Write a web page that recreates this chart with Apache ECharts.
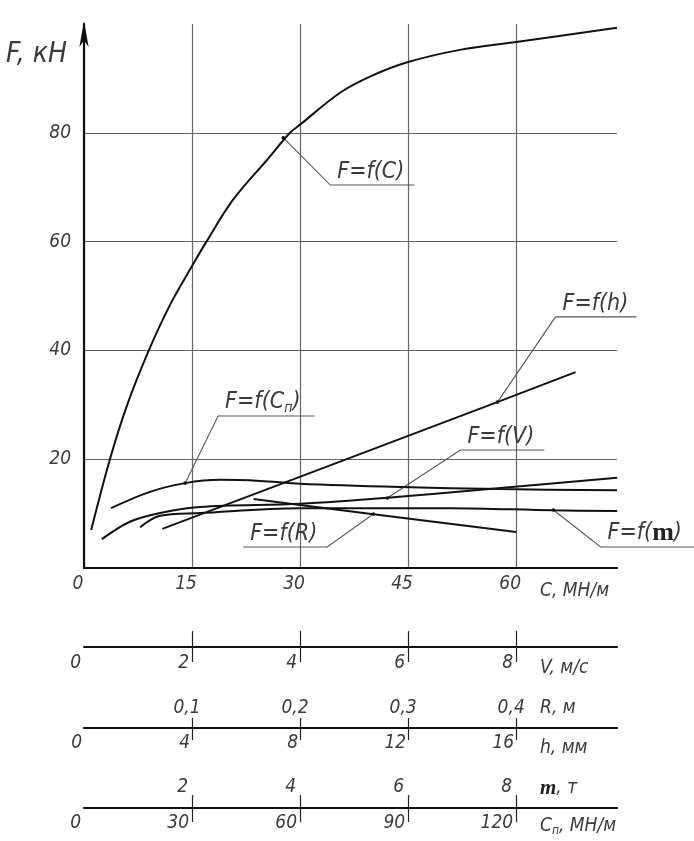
<!DOCTYPE html>
<html><head><meta charset="utf-8">
<script src="https://cdn.jsdelivr.net/npm/echarts/dist/echarts.min.js"></script>
<style>html,body{margin:0;padding:0;background:#fff}#c{width:694px;height:841px}</style>
</head><body><div id="c"></div>
<script>
// ---- tick labels ----
const cTicks = [0, 15, 30, 45, 60];
const fTicks = [20, 40, 60, 80];
const vTicks = [0, 2, 4, 6, 8];
const rTicks = [0.1, 0.2, 0.3, 0.4];
const hTicks = [0, 4, 8, 12, 16];
const mTicks = [2, 4, 6, 8];
const cpTicks = [0, 30, 60, 90, 120];

// ---- axis ranges (same physical length, different units) ----
const cMax = 74, vMax = 74 / 7.5, rMax = 74 / 150, hMax = 74 / 3.75, mMax = 74 / 7.5, cpMax = 148;

// ---- curves: [argument, F kN] ----
const curveC  = [[1.0,7.0],[3.6,20],[6.0,30],[9.0,40],[12.0,48.5],[15.0,55.5],[17.0,60],[20.7,67.7],[25.4,75],[28.6,80],[30,81.5],[35.6,87.4],[40,90.5],[45,93],[52,95.2],[60,96.7],[74,99.3]];
const curveCp = [[7.5,11.0],[18.3,14.0],[28.1,15.6],[37.8,16.2],[48.9,16.0],[60,15.5],[87.8,14.9],[115.6,14.5],[148,14.3]];
const curveV  = [[0.33,5.3],[0.85,8.5],[1.41,10.1],[2.15,11.2],[4.0,11.8],[5.62,12.9],[7.71,14.7],[9.87,16.6]];
const curveM  = [[1.04,7.5],[1.41,9.6],[2.15,10.1],[4.0,11.0],[6.78,11.0],[8.69,10.6],[9.87,10.5]];
const curveR  = [[0.157,12.7],[0.2,11.6],[0.268,9.9],[0.4,6.6]];
const curveH  = [[2.9,7.2],[15.3,30.5],[18.2,36.0]];

// ---- callouts in C / F coordinates: anchor, elbow, underline far end ----
const noteLabels = ['{a|F=f(C)}', '{a|F=f(C}{s|п}{a|)}', '{a|F=f(h)}', '{a|F=f(V)}', '{a|F=f(R)}', '{a|F=f(}{m|m}{a|)}'];
const noteAnchor = [[27.66,79.1],[14.04,15.6],[57.4,30.5],[42.11,12.87],[40.17,9.93],[65.18,10.67]];
const noteElbow  = [[34.19,70.4],[18.62,27.95],[65.46,46.16],[52.26,21.7],[33.77,3.86],[71.72,3.86]];
const noteEnd    = [45.87, 31.97, 76.72, 63.93, 22.10, 84.78];

const FONT = "'DejaVu Sans Condensed','Liberation Sans Narrow','DejaVu Sans',sans-serif";
const TXT = '#3a3a3a';
const lbl = (extra) => Object.assign({fontFamily: FONT, fontStyle: 'italic', fontSize: 19, color: TXT}, extra);
const richName = {
  a: {fontFamily: FONT, fontStyle: 'italic', fontSize: 19, color: TXT},
  s: {fontFamily: FONT, fontStyle: 'italic', fontSize: 12, color: TXT, padding: [10, 0, 0, 0]},
  b: {fontFamily: "'Liberation Serif','DejaVu Serif',serif", fontWeight: 'bold', fontSize: 21, color: '#222'}
};

const chart = echarts.init(document.getElementById('c'), null, {renderer: 'canvas'});

function hiddenX(max, grid) { return {type: 'value', gridIndex: grid, min: 0, max: max, show: false}; }
function scaleAxis(o) {
  return Object.assign({
    type: 'value', min: 0, splitLine: {show: false},
    nameLocation: 'end', nameMoveOverlap: false
  }, o);
}

const option = {
  animation: false,
  backgroundColor: '#fff',
  grid: [
    {left: 84, right: 77, top: 24, bottom: 273, outerBoundsMode: 'none'},
    {left: 84, right: 77, top: 646, height: 1, outerBoundsMode: 'none'},
    {left: 84, right: 77, top: 727, height: 1, outerBoundsMode: 'none'},
    {left: 84, right: 77, top: 807, height: 1, outerBoundsMode: 'none'}
  ],
  xAxis: [
    // 0: main C axis
    {type: 'value', gridIndex: 0, min: 0, max: cMax,
     axisLine: {lineStyle: {color: '#111', width: 2.2}},
     axisTick: {show: false, customValues: cTicks},
     splitLine: {show: true, lineStyle: {color: '#666', width: 1.2}},
     axisLabel: lbl({customValues: cTicks, align: 'center', padding: [0, 12, 0, 0], margin: 7}),
     name: 'С, МН/м', nameLocation: 'end', nameGap: -77, nameMoveOverlap: false,
     nameTextStyle: lbl({align: 'left', verticalAlign: 'top', padding: [14, 0, 0, 0]})},
    hiddenX(vMax, 0), hiddenX(rMax, 0), hiddenX(hMax, 0), hiddenX(mMax, 0), hiddenX(cpMax, 0),
    // 6: V (bottom of grid 1)
    scaleAxis({gridIndex: 1, max: vMax, position: 'bottom',
      axisLine: {lineStyle: {color: '#111', width: 2.2}},
      axisTick: {customValues: [2,4,6,8], length: 15, lineStyle: {color: '#222', width: 1.2}},
      axisLabel: lbl({customValues: vTicks, align: 'right', padding: [0, 3, 0, 0], margin: 7}),
      name: 'V, м/с', nameGap: -77, nameTextStyle: lbl({align: 'left', verticalAlign: 'top', padding: [12, 0, 0, 0]})}),
    // 7: V upward ticks
    scaleAxis({gridIndex: 1, max: vMax, position: 'top',
      axisLine: {show: false},
      axisTick: {customValues: [2,4,6,8], length: 15, lineStyle: {color: '#222', width: 1.2}},
      axisLabel: {show: false}}),
    // 8: h (bottom of grid 2)
    scaleAxis({gridIndex: 2, max: hMax, position: 'bottom',
      axisLine: {lineStyle: {color: '#111', width: 2.2}},
      axisTick: {customValues: [4,8,12,16], length: 12, lineStyle: {color: '#222', width: 1.2}},
      axisLabel: lbl({customValues: hTicks, align: 'right', padding: [0, 2, 0, 0], margin: 6}),
      name: 'h, мм', nameGap: -77, nameTextStyle: lbl({align: 'left', verticalAlign: 'top', padding: [11, 0, 0, 0]})}),
    // 9: R (top of grid 2)
    scaleAxis({gridIndex: 2, max: rMax, position: 'top',
      axisLine: {show: false},
      axisTick: {customValues: rTicks, length: 9, lineStyle: {color: '#222', width: 1.2}},
      axisLabel: lbl({customValues: rTicks, align: 'center', padding: [0, 10, 0, 0], margin: 9,
        formatter: v => v.toFixed(1).replace('.', ',')}),
      name: 'R, м', nameGap: -77, nameTextStyle: lbl({align: 'left', verticalAlign: 'bottom', padding: [0, 0, 9, 0]})}),
    // 10: Cп (bottom of grid 3)
    scaleAxis({gridIndex: 3, max: cpMax, position: 'bottom',
      axisLine: {lineStyle: {color: '#111', width: 2.2}},
      axisTick: {customValues: [30,60,90,120], length: 14, lineStyle: {color: '#222', width: 1.2}},
      axisLabel: lbl({customValues: cpTicks, align: 'right', padding: [0, 3, 0, 0], margin: 6}),
      name: '{a|С}{s|п}{a|, МН/м}', nameGap: -77,
      nameTextStyle: lbl({align: 'left', verticalAlign: 'top', padding: [7, 0, 0, 0], rich: richName})}),
    // 11: m (top of grid 3)
    scaleAxis({gridIndex: 3, max: mMax, position: 'top',
      axisLine: {show: false},
      axisTick: {customValues: mTicks, length: 12, lineStyle: {color: '#222', width: 1.2}},
      axisLabel: lbl({customValues: mTicks, align: 'right', padding: [0, 4, 0, 0], margin: 10}),
      name: '{b|m}{a|, т}', nameGap: -77,
      nameTextStyle: lbl({align: 'left', verticalAlign: 'bottom', padding: [0, 0, 8, 0], rich: richName})})
  ],
  yAxis: [
    {type: 'value', gridIndex: 0, min: 0, max: 100,
     axisLine: {show: true, lineStyle: {color: '#111', width: 2.2}, symbol: ['none', 'arrow'], symbolSize: [7, 26], symbolOffset: [0, 3]},
     axisTick: {show: false, customValues: fTicks},
     splitLine: {show: true, lineStyle: {color: '#666', width: 1.2}},
     axisLabel: lbl({customValues: fTicks, margin: 13}),
     name: 'F, кН', nameLocation: 'end', nameGap: -31, nameMoveOverlap: false,
     nameTextStyle: lbl({fontSize: 28, align: 'right', verticalAlign: 'middle', padding: [0, 17, 0, 0]})},
    {type: 'value', gridIndex: 1, show: false},
    {type: 'value', gridIndex: 2, show: false},
    {type: 'value', gridIndex: 3, show: false}
  ],
  series: [
    ['C', curveC, 0, 0.35], ['Cp', curveCp, 5, 0.35], ['V', curveV, 1, 0.35],
    ['m', curveM, 4, 0.35], ['R', curveR, 2, 0], ['h', curveH, 3, 0]
  ].map(([name, data, xi, sm]) => ({
    name, type: 'line', xAxisIndex: xi, yAxisIndex: 0, data, smooth: sm,
    showSymbol: false, symbol: 'none', silent: true,
    lineStyle: {color: '#111', width: 2}
  })).concat([{
    type: 'custom', xAxisIndex: 0, yAxisIndex: 0, clip: false, silent: true,
    encode: {x: [0, 2, 4], y: [1, 3]},
    data: noteAnchor.map((a, i) => [a[0], a[1], noteElbow[i][0], noteElbow[i][1], noteEnd[i]]),
    renderItem: function (params, api) {
      const a = api.coord([api.value(0), api.value(1)]);
      const e = api.coord([api.value(2), api.value(3)]);
      const u = api.coord([api.value(4), api.value(3)]);
      const left = Math.min(e[0], u[0]);
      return {type: 'group', children: [
        {type: 'polyline', shape: {points: [a, e, u]}, style: {stroke: '#555', lineWidth: 1.1, fill: null}},
        {type: 'circle', shape: {cx: a[0], cy: a[1], r: 1.8}, style: {fill: '#111'}},
        {type: 'text', x: left + 7, y: e[1] - 1, style: {
          text: noteLabels[params.dataIndex], verticalAlign: 'bottom', align: 'left',
          rich: {
            a: {fontFamily: FONT, fontStyle: 'italic', fontSize: 23, fill: TXT},
            s: {fontFamily: FONT, fontStyle: 'italic', fontSize: 14, fill: TXT, padding: [12, 0, 0, 0]},
            m: {fontFamily: "'Liberation Serif','DejaVu Serif',serif", fontWeight: 'bold', fontSize: 26, fill: '#222'}
          }
        }}
      ]};
    }
  }])
};
chart.setOption(option);
</script></body></html>
